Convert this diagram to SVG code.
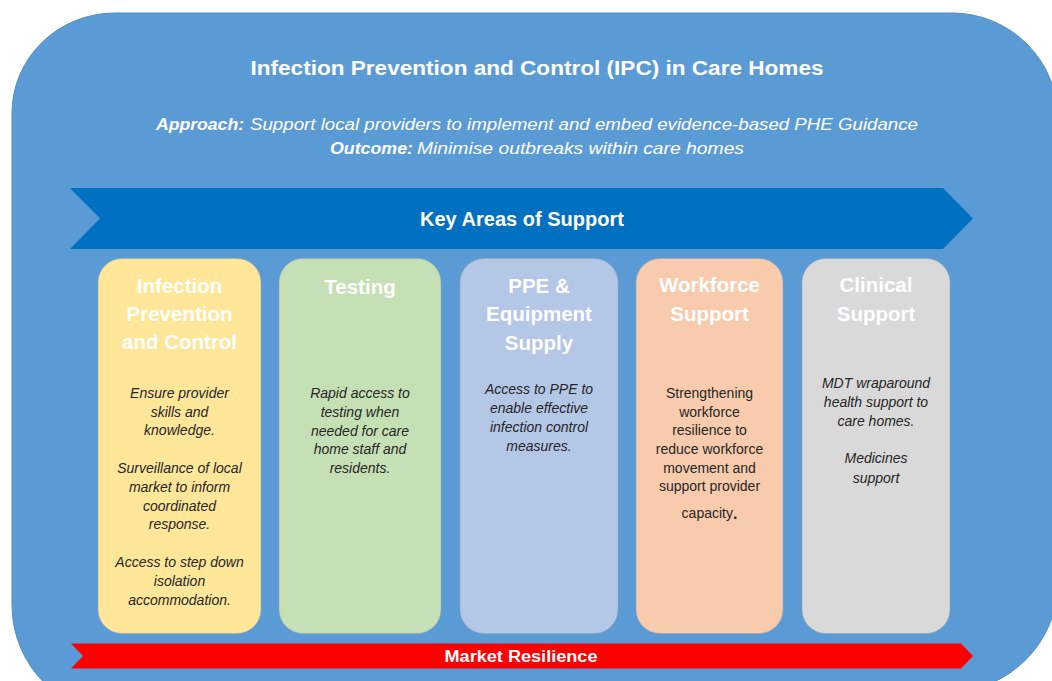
<svg xmlns="http://www.w3.org/2000/svg" width="1052" height="681" viewBox="0 0 1052 681">
<style>
.t{font-family:"Liberation Sans",Arial,sans-serif;fill:#fff;text-anchor:middle;dominant-baseline:central}
.b{font-weight:bold}
.i{font-style:italic}
.ct{font-family:"Liberation Sans",Arial,sans-serif;font-weight:bold;font-size:20.5px;fill:#fff;text-anchor:middle;dominant-baseline:central}
.bd{font-family:"Liberation Sans",Arial,sans-serif;font-size:14px;fill:#262626;text-anchor:middle;dominant-baseline:central}
.card{stroke:#9aa6b2;stroke-width:1;stroke-opacity:0.6}
</style>
<rect width="1052" height="681" fill="#fff"/>
<g id="background">
<path d="M12,113 A103,100 0 0 1 115,13 L952,13 A106,106 0 0 1 1058,119 L1058,582 A110,110 0 0 1 948,692 L122,715 A110,110 0 0 1 12,605 Z" fill="#5B9BD5" stroke="#4f8cc4" stroke-width="1"/>
</g>
<g id="header">
<text class="t b" x="537" y="68" font-size="20" textLength="573" lengthAdjust="spacingAndGlyphs">Infection Prevention and Control (IPC) in Care Homes</text>
<text class="t b i" x="200" y="124" font-size="16" textLength="88" lengthAdjust="spacingAndGlyphs">Approach:</text>
<text class="t i" x="584" y="124" font-size="16" textLength="668" lengthAdjust="spacingAndGlyphs">Support local providers to implement and embed evidence-based PHE Guidance</text>
<text class="t b i" x="371.5" y="148" font-size="16" textLength="83" lengthAdjust="spacingAndGlyphs">Outcome:</text>
<text class="t i" x="580.5" y="148" font-size="16" textLength="327" lengthAdjust="spacingAndGlyphs">Minimise outbreaks within care homes</text>
</g>
<g id="key-areas-band">
<polygon points="70,188 943,188 973,218.5 943,249 70,249 100,218.5" fill="#0070C0"/>
<text class="t b" x="522" y="218.5" font-size="20" textLength="204" lengthAdjust="spacingAndGlyphs">Key Areas of Support</text>
</g>
<g id="card-ipc">
<rect class="card" x="98" y="258.5" width="163" height="375" rx="24" fill="#FFE699"/>
<text class="ct" x="179.5" y="285">Infection</text>
<text class="ct" x="179.5" y="313">Prevention</text>
<text class="ct" x="179.5" y="341">and Control</text>
<text class="bd i" x="179.5" y="393">Ensure provider</text>
<text class="bd i" x="179.5" y="411.5">skills and</text>
<text class="bd i" x="179.5" y="430">knowledge.</text>
<text class="bd i" x="179.5" y="468">Surveillance of local</text>
<text class="bd i" x="179.5" y="487">market to inform</text>
<text class="bd i" x="179.5" y="505.5">coordinated</text>
<text class="bd i" x="179.5" y="524">response.</text>
<text class="bd i" x="179.5" y="562">Access to step down</text>
<text class="bd i" x="179.5" y="581">isolation</text>
<text class="bd i" x="179.5" y="599.5">accommodation.</text>
</g>
<g id="card-testing">
<rect class="card" x="279" y="258.5" width="162" height="375" rx="24" fill="#C5E0B4"/>
<text class="ct" x="360" y="286">Testing</text>
<text class="bd i" x="360" y="393">Rapid access to</text>
<text class="bd i" x="360" y="412">testing when</text>
<text class="bd i" x="360" y="430.5">needed for care</text>
<text class="bd i" x="360" y="449">home staff and</text>
<text class="bd i" x="360" y="468">residents.</text>
</g>
<g id="card-ppe">
<rect class="card" x="460" y="258.5" width="158" height="375" rx="24" fill="#B4C7E7"/>
<text class="ct" x="539" y="285">PPE &amp;</text>
<text class="ct" x="539" y="313.5">Equipment</text>
<text class="ct" x="539" y="342">Supply</text>
<text class="bd i" x="539" y="389">Access to PPE to</text>
<text class="bd i" x="539" y="408">enable effective</text>
<text class="bd i" x="539" y="427">infection control</text>
<text class="bd i" x="539" y="446">measures.</text>
</g>
<g id="card-workforce">
<rect class="card" x="636" y="258.5" width="147" height="375" rx="24" fill="#F8CBAD"/>
<text class="ct" x="709.5" y="284.5">Workforce</text>
<text class="ct" x="709.5" y="313">Support</text>
<text class="bd" x="709.5" y="393">Strengthening</text>
<text class="bd" x="709.5" y="411.5">workforce</text>
<text class="bd" x="709.5" y="430">resilience to</text>
<text class="bd" x="709.5" y="449">reduce workforce</text>
<text class="bd" x="709.5" y="467.5">movement and</text>
<text class="bd" x="709.5" y="486">support provider</text>
<text class="bd" x="709.5" y="513">capacity<tspan font-weight="bold" font-size="16">.</tspan></text>
</g>
<g id="card-clinical">
<rect class="card" x="802" y="258.5" width="148" height="375" rx="24" fill="#D9D9D9"/>
<text class="ct" x="876" y="284.5">Clinical</text>
<text class="ct" x="876" y="313">Support</text>
<text class="bd i" x="876" y="383">MDT wraparound</text>
<text class="bd i" x="876" y="402">health support to</text>
<text class="bd i" x="876" y="421">care homes.</text>
<text class="bd i" x="876" y="458">Medicines</text>
<text class="bd i" x="876" y="477.5">support</text>
</g>
<g id="market-resilience-band">
<polygon points="71,643.5 961,643.5 973,656 961,668.5 71,668.5 83,656" fill="#FF0000"/>
<text class="t b" x="521" y="656.5" font-size="16" textLength="153" lengthAdjust="spacingAndGlyphs">Market Resilience</text>
</g>
<g id="connectors"></g>
</svg>
